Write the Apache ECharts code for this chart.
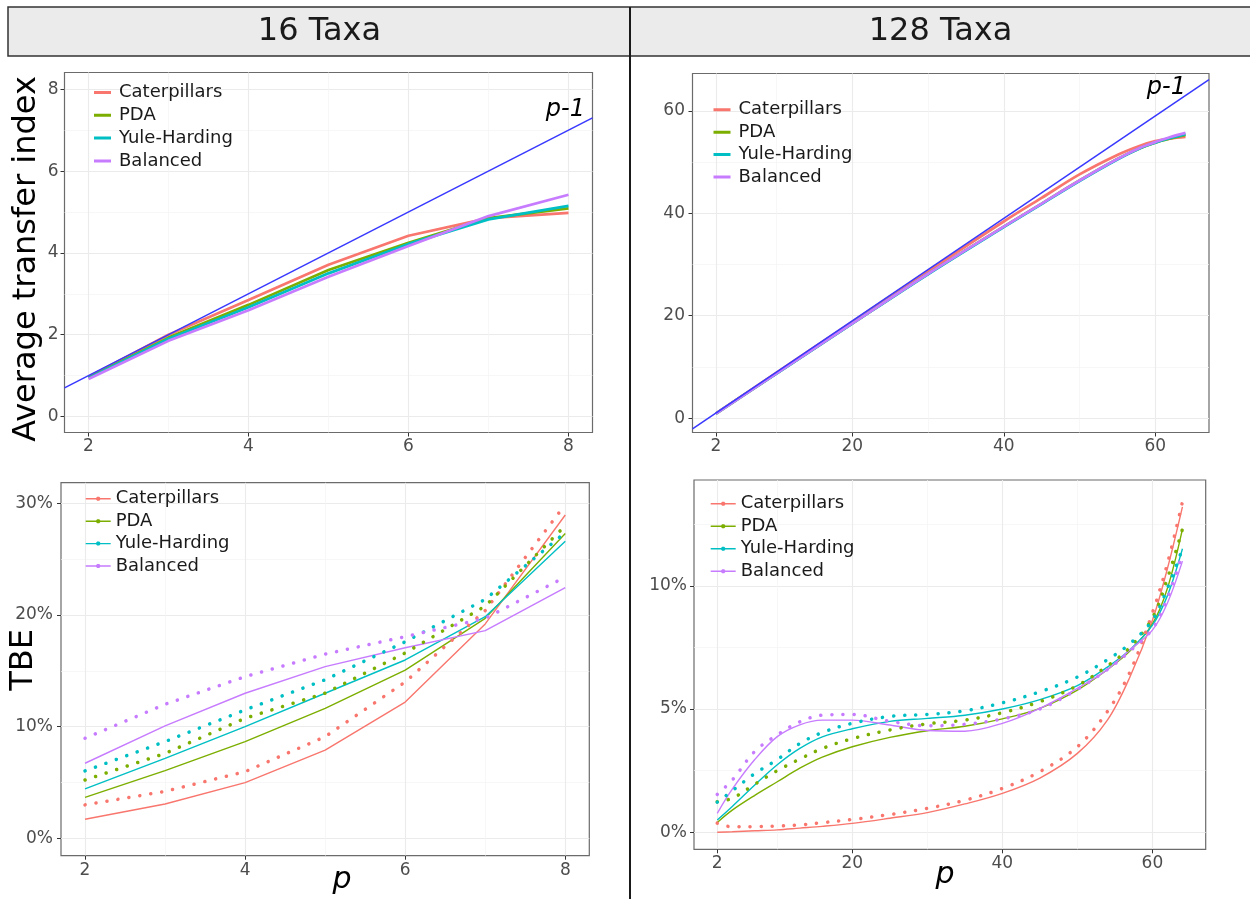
<!DOCTYPE html>
<html lang="en">
<head>
<meta charset="UTF-8">
<title>Transfer index / TBE</title>
<script src="https://cdn.jsdelivr.net/npm/echarts@6/dist/echarts.min.js"></script>
<style>
  html, body { margin: 0; padding: 0; background: #fff; }
  #main { width: 1250px; height: 899px; }
</style>
</head>
<body>
<div id="main"></div>
<script>
// ---- data ----
var names = ['Caterpillars', 'PDA', 'Yule-Harding', 'Balanced'];

// 16 taxa, average transfer index
var p16 = [2, 3, 4, 5, 6, 7, 8];
var ati16Caterpillars = [0.97, 2.0, 2.85, 3.71, 4.42, 4.85, 4.98];
var ati16PDA = [0.95, 1.93, 2.73, 3.58, 4.25, 4.85, 5.09];
var ati16Yule = [0.94, 1.9, 2.67, 3.5, 4.22, 4.82, 5.15];
var ati16Balanced = [0.92, 1.85, 2.6, 3.42, 4.17, 4.9, 5.42];

// 128 taxa, average transfer index
var p128Ati = [2, 10, 20, 30, 40, 45, 50, 55, 58, 60, 62, 64];
var ati128Caterpillars = [0.95, 8.9, 18.8, 28.7, 38.4, 43.0, 47.6, 51.4, 53.2, 54.1, 54.6, 54.9];
var ati128PDA = [0.9, 8.75, 18.5, 28.2, 37.4, 41.9, 46.4, 50.6, 52.7, 53.8, 54.6, 55.3];
var ati128Yule = [0.9, 8.7, 18.45, 28.1, 37.3, 41.8, 46.3, 50.5, 52.7, 53.8, 54.7, 55.45];
var ati128Balanced = [0.9, 8.75, 18.5, 28.2, 37.4, 41.9, 46.4, 50.6, 52.8, 53.9, 54.9, 55.7];

// p-1 reference line end points
var ref16X = [1.7, 8.3];
var ref16Y = [0.7, 7.3];
var ref128X = [-1.1, 67.1];
var ref128Y = [-2.1, 66.1];

// 16 taxa, TBE (%) solid and dotted
var tbe16CaterpillarsSolid = [1.7, 3.07, 4.99, 7.9, 12.2, 19.2, 28.96];
var tbe16PDASolid = [3.67, 6.06, 8.66, 11.64, 15.07, 19.7, 27.3];
var tbe16YuleSolid = [4.42, 7.16, 10.0, 12.99, 15.97, 19.85, 26.6];
var tbe16BalancedSolid = [6.72, 10.06, 12.99, 15.37, 17.07, 18.6, 22.45];
var tbe16CaterpillarsDot = [2.99, 4.2, 5.97, 9.1, 14.0, 20.4, 29.9];
var tbe16PDADot = [5.22, 7.6, 10.75, 13.0, 16.6, 20.8, 28.0];
var tbe16YuleDot = [6.03, 8.66, 11.5, 14.2, 17.6, 21.4, 27.4];
var tbe16BalancedDot = [8.96, 12.0, 14.48, 16.5, 18.06, 19.7, 23.4];

// 128 taxa, TBE (%) solid and dotted
var p128Tbe = [2, 4, 7, 10, 13, 16, 20, 25, 30, 35, 40, 45, 50, 54, 57, 60, 62, 64];
var tbe128CaterpillarsSolid = [0.0, 0.02, 0.06, 0.1, 0.17, 0.24, 0.36, 0.57, 0.8, 1.15, 1.58, 2.2, 3.2, 4.55, 6.3, 8.6, 10.7, 13.2];
var tbe128PDASolid = [0.4, 0.9, 1.5, 2.05, 2.6, 3.05, 3.47, 3.85, 4.12, 4.3, 4.6, 5.03, 5.77, 6.6, 7.35, 8.45, 9.9, 12.3];
var tbe128YuleSolid = [0.5, 1.05, 1.92, 2.74, 3.4, 3.87, 4.2, 4.5, 4.62, 4.75, 5.0, 5.38, 5.95, 6.7, 7.4, 8.4, 9.6, 11.5];
var tbe128BalancedSolid = [0.77, 1.75, 2.95, 3.88, 4.36, 4.55, 4.55, 4.35, 4.13, 4.1, 4.42, 5.03, 5.84, 6.6, 7.4, 8.2, 9.3, 11.0];
var tbe128CaterpillarsDot = [0.37, 0.22, 0.23, 0.25, 0.3, 0.39, 0.52, 0.72, 0.97, 1.3, 1.78, 2.46, 3.47, 4.9, 6.5, 8.9, 10.9, 13.4];
var tbe128PDADot = [1.24, 1.38, 1.95, 2.5, 2.97, 3.4, 3.8, 4.15, 4.4, 4.55, 4.85, 5.3, 5.95, 6.75, 7.5, 8.7, 10.3, 12.3];
var tbe128YuleDot = [1.22, 1.68, 2.38, 2.95, 3.6, 4.05, 4.42, 4.7, 4.78, 4.93, 5.25, 5.7, 6.3, 7.0, 7.65, 8.6, 9.9, 11.5];
var tbe128BalancedDot = [1.54, 2.12, 3.28, 3.95, 4.48, 4.75, 4.78, 4.5, 4.32, 4.38, 4.6, 5.0, 5.8, 6.6, 7.35, 8.25, 9.5, 11.3];

// axis breaks
var xTicks16 = [2, 4, 6, 8];
var xMinor16 = [3, 5, 7];
var xTicks128 = [2, 20, 40, 60];
var xMinor128 = [10, 30, 50];
var yTicksAti16 = [0, 2, 4, 6, 8];
var yMinorAti16 = [1, 3, 5, 7];
var yTicksAti128 = [0, 20, 40, 60];
var yMinorAti128 = [10, 30, 50];
var yTicksTbe16 = [0, 10, 20, 30];
var yMinorTbe16 = [5, 15, 25];
var yTicksTbe128 = [0, 5, 10];
var yMinorTbe128 = [2.5, 7.5, 12.5];

// ---- styling ----
var FONT = 'DejaVu Sans';
var colors = ['#F8766D', '#7CAE00', '#00BFC4', '#C77CFF'];
var refColor = '#3838FF';

function mainX(grid, min, max, ticks) {
    return {
        type: 'value', gridIndex: grid, min: min, max: max, position: 'bottom',
        axisLine: { show: false, onZero: false },
        axisTick: { show: true, length: 4, customValues: ticks, lineStyle: { color: '#333', width: 1 } },
        axisLabel: { customValues: ticks, margin: 6, color: '#4D4D4D', fontSize: 17, fontFamily: FONT },
        splitLine: { show: true, lineStyle: { color: '#EBEBEB', width: 1.1 } }
    };
}
function mainY(grid, min, max, ticks, fmt, margin) {
    return {
        type: 'value', gridIndex: grid, min: min, max: max, position: 'left',
        axisLine: { show: false, onZero: false },
        axisTick: { show: true, length: 4, customValues: ticks, lineStyle: { color: '#333', width: 1 } },
        axisLabel: { customValues: ticks, margin: margin, color: '#4D4D4D', fontSize: 17, fontFamily: FONT, formatter: fmt },
        splitLine: { show: true, lineStyle: { color: '#EBEBEB', width: 1.1 } }
    };
}
function minorAxis(grid, min, max, ticks, pos) {
    return {
        type: 'value', gridIndex: grid, min: min, max: max, position: pos,
        axisLine: { show: false, onZero: false },
        axisTick: { show: false, customValues: ticks },
        axisLabel: { show: false },
        splitLine: { show: true, lineStyle: { color: '#F3F3F3', width: 0.7 } }
    };
}

function pairs(xs, ys) {
    return xs.map(function (x, i) { return [x, ys[i]]; });
}
function line(name, color, xs, ys, axis, lineStyle, smooth) {
    return {
        name: name, type: 'line', xAxisIndex: axis, yAxisIndex: axis,
        data: pairs(xs, ys), symbol: 'none', showSymbol: false,
        smooth: smooth ? 0.35 : false,
        color: color, itemStyle: { color: color },
        lineStyle: Object.assign({ color: color }, lineStyle),
        silent: true, animation: false
    };
}

var thick = { width: 2.7 };
var thin = { width: 1.4 };
var dots = { width: 3.5, type: [0.1, 11], cap: 'round' };

var series = [];
var ati16 = [ati16Caterpillars, ati16PDA, ati16Yule, ati16Balanced];
var ati128 = [ati128Caterpillars, ati128PDA, ati128Yule, ati128Balanced];
var tbe16S = [tbe16CaterpillarsSolid, tbe16PDASolid, tbe16YuleSolid, tbe16BalancedSolid];
var tbe16D = [tbe16CaterpillarsDot, tbe16PDADot, tbe16YuleDot, tbe16BalancedDot];
var tbe128S = [tbe128CaterpillarsSolid, tbe128PDASolid, tbe128YuleSolid, tbe128BalancedSolid];
var tbe128D = [tbe128CaterpillarsDot, tbe128PDADot, tbe128YuleDot, tbe128BalancedDot];

names.forEach(function (n, i) { series.push(line(n, colors[i], p16, ati16[i], 0, thick, false)); });
series.push(line('p-1', refColor, ref16X, ref16Y, 0, { width: 1.5 }, false));
names.forEach(function (n, i) { series.push(line(n, colors[i], p128Ati, ati128[i], 1, thick, true)); });
series.push(line('p-1', refColor, ref128X, ref128Y, 1, { width: 1.5 }, false));
names.forEach(function (n, i) { series.push(line(n, colors[i], p16, tbe16S[i], 2, thin, false)); });
names.forEach(function (n, i) { series.push(line(n, colors[i], p16, tbe16D[i], 2, dots, false)); });
names.forEach(function (n, i) { series.push(line(n, colors[i], p128Tbe, tbe128S[i], 3, thin, true)); });
names.forEach(function (n, i) { series.push(line(n, colors[i], p128Tbe, tbe128D[i], 3, dots, true)); });

var lineIcon = 'path://M0,0H17V3H0Z M20,0L20,3Z';
var dotIcon = 'path://M0,1.3H25V2.7H0Z M11.5,0H13.5L14.5,1V3L13.5,4H11.5L10.5,3V1Z';
function legend(left, top, gap, icon, w, h) {
    return {
        data: names, orient: 'vertical', left: left, top: top, padding: 0,
        itemGap: gap, itemWidth: w, itemHeight: h, icon: icon, selectedMode: false,
        itemStyle: { borderWidth: 0 },
        textStyle: { fontSize: 18, fontFamily: FONT, color: '#1A1A1A' }
    };
}

var gridBox = { show: true, borderColor: '#6B6B6B', borderWidth: 1.2, backgroundColor: '#fff' };
var pct = function (v) { return v + '%'; };

var myChart = echarts.init(document.getElementById('main'));
var option = {
    animation: false,
    backgroundColor: '#fff',
    grid: [
        Object.assign({ left: 64.5, top: 72.5, width: 528, height: 360 }, gridBox),
        Object.assign({ left: 692.5, top: 73.5, width: 516.5, height: 359 }, gridBox),
        Object.assign({ left: 61, top: 482.7, width: 528.3, height: 373 }, gridBox),
        Object.assign({ left: 694, top: 480, width: 511.7, height: 369.3 }, gridBox)
    ],
    xAxis: [
        mainX(0, 1.7, 8.3, xTicks16),
        mainX(1, -1.1, 67.1, xTicks128),
        mainX(2, 1.7, 8.3, xTicks16),
        mainX(3, -1.1, 67.1, xTicks128),
        minorAxis(0, 1.7, 8.3, xMinor16, 'top'),
        minorAxis(1, -1.1, 67.1, xMinor128, 'top'),
        minorAxis(2, 1.7, 8.3, xMinor16, 'top'),
        minorAxis(3, -1.1, 67.1, xMinor128, 'top')
    ],
    yAxis: [
        mainY(0, -0.39, 8.41, yTicksAti16, null, 6),
        mainY(1, -2.8, 67.3, yTicksAti128, null, 7.5),
        mainY(2, -1.56, 31.85, yTicksTbe16, pct, 8),
        mainY(3, -0.69, 14.29, yTicksTbe128, pct, 7),
        minorAxis(0, -0.39, 8.41, yMinorAti16, 'right'),
        minorAxis(1, -2.8, 67.3, yMinorAti128, 'right'),
        minorAxis(2, -1.56, 31.85, yMinorTbe16, 'right'),
        minorAxis(3, -0.69, 14.29, yMinorTbe128, 'right')
    ],
    legend: [
        legend(94, 83.5, 4.8, lineIcon, 20, 3),
        legend(713.5, 100.8, 4.4, lineIcon, 20, 3),
        legend(85.7, 489.8, 4.4, dotIcon, 25, 4),
        legend(710.7, 494.8, 4.5, dotIcon, 25, 4)
    ],
    graphic: [
        { type: 'rect', z: 50, shape: { x: 8, y: 7, width: 1260, height: 49 },
          style: { fill: '#EBEBEB', stroke: '#333', lineWidth: 1.5 } },
        { type: 'line', z: 60, shape: { x1: 630, y1: 7, x2: 630, y2: 899 },
          style: { stroke: '#1A1A1A', lineWidth: 2 } },
        { type: 'text', z: 60, x: 319.5, y: 32,
          style: { text: '16 Taxa', font: '32px "DejaVu Sans"', fill: '#1A1A1A', align: 'center', verticalAlign: 'middle' } },
        { type: 'text', z: 60, x: 940.5, y: 32,
          style: { text: '128 Taxa', font: '32px "DejaVu Sans"', fill: '#1A1A1A', align: 'center', verticalAlign: 'middle' } },
        { type: 'text', z: 60, x: 27, y: 259, rotation: Math.PI / 2,
          style: { text: 'Average transfer index', font: '32px "DejaVu Sans"', fill: '#000', align: 'center', verticalAlign: 'middle' } },
        { type: 'text', z: 60, x: 23.5, y: 660, rotation: Math.PI / 2,
          style: { text: 'TBE', font: '32px "DejaVu Sans"', fill: '#000', align: 'center', verticalAlign: 'middle' } },
        { type: 'text', z: 60, x: 342, y: 880.5,
          style: { text: 'p', font: 'italic 30px "DejaVu Sans"', fill: '#000', align: 'center', verticalAlign: 'middle' } },
        { type: 'text', z: 60, x: 945, y: 875.5,
          style: { text: 'p', font: 'italic 30px "DejaVu Sans"', fill: '#000', align: 'center', verticalAlign: 'middle' } },
        { type: 'text', z: 60, x: 585, y: 110,
          style: { text: 'p-1', font: 'italic 24px "DejaVu Sans"', fill: '#000', align: 'right', verticalAlign: 'middle' } },
        { type: 'text', z: 60, x: 1186, y: 88,
          style: { text: 'p-1', font: 'italic 24px "DejaVu Sans"', fill: '#000', align: 'right', verticalAlign: 'middle' } }
    ],
    series: series
};
myChart.setOption(option);
</script>
</body>
</html>
